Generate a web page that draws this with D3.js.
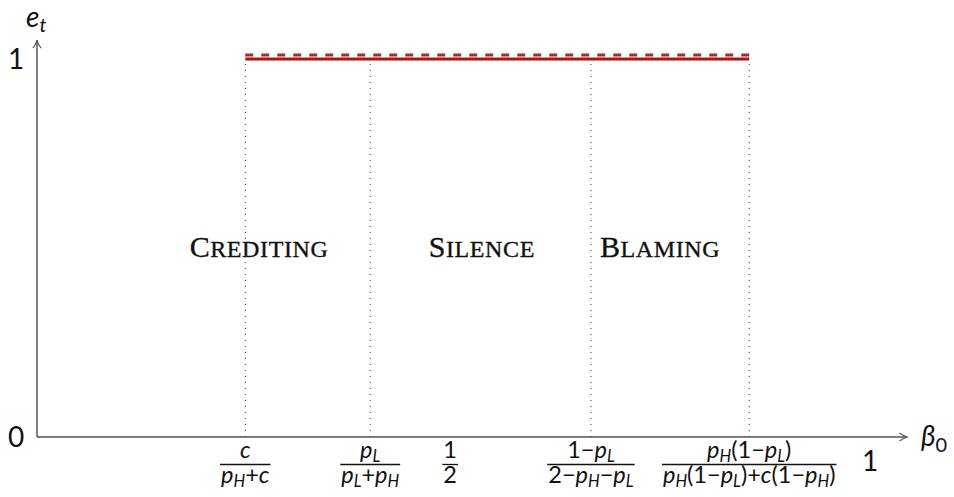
<!DOCTYPE html>
<html>
<head>
<meta charset="utf-8">
<script src="https://cdn.jsdelivr.net/npm/d3@7"></script>
<style>
  body { margin: 0; background: #fff; }
  svg { display: block; }
</style>
</head>
<body>
<script>
// Region boundaries on the beta_0 axis
const boundaries = [0.25, 0.40, 0.665, 0.855];
// Tick positions and their fraction labels ("_" marks a subscript)
const tickValues = [0.25, 0.40, 0.496, 0.665, 0.855];
const tickNumerators = ["c", "p_L", "1", "1−p_L", "p_H(1−p_L)"];
const tickDenominators = ["p_H+c", "p_L+p_H", "2", "2−p_H−p_L", "p_H(1−p_L)+c(1−p_H)"];
// Effort levels: solid and dashed both sit at e_t = 1 over the same span
const lineX = [0.25, 0.855];
const lineSolid = [1, 1];
const lineDashed = [1, 1];
// Region names and where they sit
const regionNames = ["Crediting", "Silence", "Blaming"];
const regionX = [0.2665, 0.534, 0.748];
const regionY = 0.475;

const W = 954, H = 497;
const svg = d3.select("body").append("svg")
    .attr("width", W)
    .attr("height", H);

const x = d3.scaleLinear().domain([0, 1]).range([37, 870]);
const y = d3.scaleLinear().domain([0, 1]).range([437, 59]);

const axisColor = "#555";
const red = "#a01818";

// Arrow marker
svg.append("defs").append("marker")
    .attr("id", "arrow")
    .attr("viewBox", "0 0 10 10")
    .attr("refX", 9).attr("refY", 5)
    .attr("markerWidth", 10).attr("markerHeight", 10)
    .attr("markerUnits", "userSpaceOnUse")
    .attr("orient", "auto")
    .append("path")
    .attr("d", "M1,1 Q5,4 9,5 Q5,6 1,9")
    .attr("fill", "none")
    .attr("stroke", axisColor)
    .attr("stroke-width", 1.2);

// Axes
svg.append("line")
    .attr("x1", x(0)).attr("y1", y(0))
    .attr("x2", x(1.045)).attr("y2", y(0))
    .attr("stroke", axisColor).attr("stroke-width", 1.5)
    .attr("marker-end", "url(#arrow)");
svg.append("line")
    .attr("x1", x(0)).attr("y1", y(0))
    .attr("x2", x(0)).attr("y2", y(1.05))
    .attr("stroke", axisColor).attr("stroke-width", 1.5)
    .attr("marker-end", "url(#arrow)");

// Dotted region boundaries
svg.selectAll(".bound")
    .data(boundaries)
    .enter()
    .append("line")
    .attr("x1", d => x(d)).attr("x2", d => x(d))
    .attr("y1", y(0)).attr("y2", y(1))
    .attr("stroke", "#333")
    .attr("stroke-width", 1)
    .attr("stroke-dasharray", "1 5");

// Effort lines
const line = d3.line().x(d => x(d[0])).y(d => y(d[1]));
svg.append("path")
    .datum(lineX.map((v, i) => [v, lineDashed[i]]))
    .attr("d", line)
    .attr("transform", "translate(0,-4)")
    .attr("fill", "none")
    .attr("stroke", "#b02828")
    .attr("stroke-width", 3)
    .attr("stroke-dasharray", "8 8");
svg.append("path")
    .datum(lineX.map((v, i) => [v, lineSolid[i]]))
    .attr("d", line)
    .attr("fill", "none")
    .attr("stroke", red)
    .attr("stroke-width", 3);

// Math-ish text: letters italic, "_" makes the next char a subscript
function mathText(sel, str, size) {
    let sub = false, wasSub = false;
    const shift = size * 0.18;
    for (const ch of str) {
        if (ch === "_") { sub = true; continue; }
        const isLetter = /[A-Za-z]/.test(ch);
        const ts = sel.append("tspan")
            .text(ch)
            .attr("font-style", isLetter ? "italic" : "normal")
            .attr("font-size", sub ? size * 0.7 : size);
        if (sub) ts.attr("dy", shift);
        else if (wasSub) ts.attr("dy", -shift);
        wasSub = sub;
        sub = false;
    }
    return sel;
}

const fs = 23.5;
const fontMath = "Lato, 'Open Sans', sans-serif";

// Fraction tick labels
const fracs = svg.selectAll(".frac")
    .data(tickValues)
    .enter()
    .append("g")
    .attr("transform", d => `translate(${x(d)},0)`);

fracs.each(function (d, i) {
    const g = d3.select(this);
    const num = g.append("text")
        .attr("y", 458)
        .attr("text-anchor", "middle")
        .attr("font-family", fontMath)
        .attr("fill", "#111");
    mathText(num, tickNumerators[i], fs);
    const den = g.append("text")
        .attr("y", 483)
        .attr("text-anchor", "middle")
        .attr("font-family", fontMath)
        .attr("fill", "#111");
    mathText(den, tickDenominators[i], fs);
    const w = Math.max(num.node().getComputedTextLength(), den.node().getComputedTextLength());
    g.append("line")
        .attr("x1", -w / 2 - 1).attr("x2", w / 2 + 1)
        .attr("y1", 464.5).attr("y2", 464.5)
        .attr("stroke", "#111").attr("stroke-width", 1.3);
});

// Plain end labels
svg.append("text")
    .attr("x", x(1)).attr("y", 471)
    .attr("text-anchor", "middle")
    .attr("font-family", fontMath)
    .attr("font-size", 28)
    .attr("fill", "#111")
    .text("1");
svg.append("text")
    .attr("x", 16).attr("y", y(0) + 10)
    .attr("text-anchor", "middle")
    .attr("font-family", fontMath)
    .attr("font-size", 28)
    .attr("fill", "#111")
    .text("0");
svg.append("text")
    .attr("x", 16).attr("y", y(1) + 10)
    .attr("text-anchor", "middle")
    .attr("font-family", fontMath)
    .attr("font-size", 28)
    .attr("fill", "#111")
    .text("1");

// Axis titles
const et = svg.append("text")
    .attr("x", 26).attr("y", 27)
    .attr("font-family", fontMath)
    .attr("fill", "#111");
mathText(et, "e_t", 28);
const beta = svg.append("text")
    .attr("x", 921).attr("y", 446)
    .attr("font-family", fontMath)
    .attr("fill", "#111");
beta.append("tspan").attr("font-style", "italic").attr("font-size", 28).text("β");
beta.append("tspan").attr("font-size", 20).attr("dy", 6).text("0");

// Region names in hand-made small caps
const regions = svg.selectAll(".region")
    .data(regionNames)
    .enter()
    .append("text")
    .attr("x", (d, i) => x(regionX[i]))
    .attr("y", y(regionY))
    .attr("text-anchor", "middle")
    .attr("font-family", "'Liberation Serif', 'DejaVu Serif', serif")
    .attr("fill", "#111")
    .attr("stroke", "#111")
    .attr("stroke-width", 0.35)
    .attr("letter-spacing", 0.6);
regions.append("tspan")
    .attr("font-size", 30)
    .text(d => d[0]);
regions.append("tspan")
    .attr("font-size", 24)
    .text(d => d.slice(1).toUpperCase());
</script>
</body>
</html>
